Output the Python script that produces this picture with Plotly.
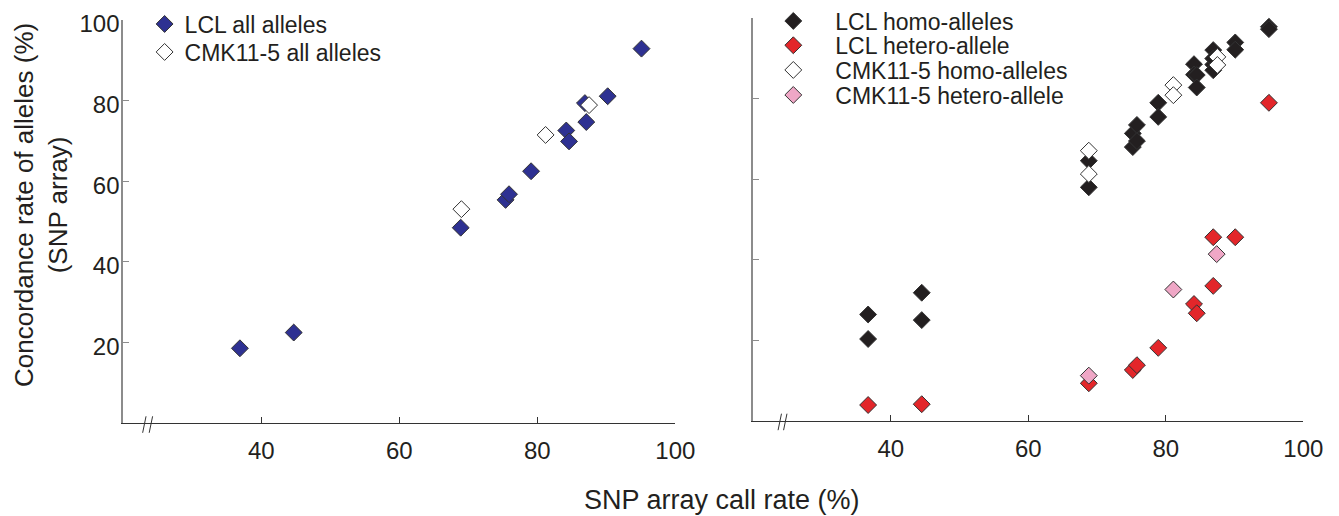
import plotly.graph_objects as go

# The page body keeps its default 8px margin, so the figure starts at (8, 8);
# it is sized to fill the rest of the 1339x516 window and every target pixel
# position below is given in window pixels and converted with OFF.
PAGE_W, PAGE_H = 1339, 516
OFF = 8
W, H = PAGE_W - OFF, PAGE_H - OFF

# ---------------- data ----------------
lcl_all_x = [36.9, 44.7, 68.9, 75.4, 75.9, 79.1, 84.2, 84.6, 87.1, 86.9, 90.2, 95.1]
lcl_all_y = [18.6, 22.5, 48.5, 55.4, 56.8, 62.5, 72.6, 69.9, 74.7, 79.4, 81.1, 92.9]
cmk_all_x = [69.0, 81.2, 87.5]
cmk_all_y = [53.1, 71.5, 78.9]

lcl_homo_x = [36.7, 36.7, 44.5, 44.5, 68.8, 68.8, 75.2, 75.2, 75.8, 75.8, 78.9, 78.9,
              84.1, 84.1, 84.5, 84.5, 86.9, 86.9, 86.9, 86.9, 90.1, 90.1, 95.0, 95.0]
lcl_homo_y = [26.4, 20.3, 31.8, 25.0, 64.6, 58.0, 71.4, 68.0, 73.5, 69.5, 79.0, 75.5,
              88.6, 86.0, 85.9, 82.8, 92.1, 88.5, 90.0, 87.1, 94.0, 92.2, 97.9, 97.3]
lcl_het_x = [36.7, 44.5, 68.8, 75.2, 75.8, 78.9, 84.1, 84.5, 86.9, 86.9, 90.1, 95.0]
lcl_het_y = [3.9, 4.1, 9.3, 12.6, 13.8, 18.1, 29.0, 26.7, 45.6, 33.5, 45.6, 79.0]
cmk_homo_x = [68.8, 68.8, 81.1, 81.1, 87.5, 87.5]
cmk_homo_y = [67.1, 61.3, 83.4, 80.9, 90.4, 88.4]
cmk_het_x = [68.8, 81.1, 87.4]
cmk_het_y = [11.2, 32.6, 41.4]

x_ticks = [40, 60, 80, 100]
y_ticks = [20, 40, 60, 80, 100]

# ---------------- styling ----------------
FONT = "Arial, Liberation Sans, Helvetica, sans-serif"
TXT = "#231F20"
BLUE = "#2E3192"
BLACK = "#231F20"
RED = "#E3262A"
PINK = "#EFA7C6"
WHITE = "#FFFFFF"
EDGE = "#333333"
MSIZE = 13

XR = [20, 100]
YR = [0, 100]


def px_x(p):
    return (p - OFF) / W


def px_y(p):
    return 1 - (p - OFF) / H


L_XD = [px_x(123.3), px_x(675.3)]
L_YD = [px_y(423.3), px_y(20)]
R_XD = [px_x(753.3), px_x(1303.3)]
R_YD = [px_y(420.7), px_y(18.3)]

fig = go.Figure()


def add(x, y, name, color, xa, ya, leg):
    fig.add_trace(go.Scatter(
        x=x, y=y, mode="markers", name=name, xaxis=xa, yaxis=ya, legend=leg,
        marker=dict(symbol="diamond", size=MSIZE, color=color,
                    line=dict(color=EDGE, width=1)),
        cliponaxis=False,
    ))


add(lcl_all_x, lcl_all_y, "LCL all alleles", BLUE, "x", "y", "legend")
add(cmk_all_x, cmk_all_y, "CMK11-5 all alleles", WHITE, "x", "y", "legend2")
add(lcl_homo_x, lcl_homo_y, "LCL homo-alleles", BLACK, "x2", "y2", "legend3")
add(lcl_het_x, lcl_het_y, "LCL hetero-allele", RED, "x2", "y2", "legend4")
add(cmk_homo_x, cmk_homo_y, "CMK11-5 homo-alleles", WHITE, "x2", "y2", "legend5")
add(cmk_het_x, cmk_het_y, "CMK11-5 hetero-allele", PINK, "x2", "y2", "legend6")

xaxis_common = dict(range=XR, tickvals=x_ticks, ticks="inside", ticklen=6, tickwidth=1,
                    tickcolor="#333333", showline=True, linecolor="#333333", linewidth=1.2,
                    showgrid=False, zeroline=False, ticklabelstandoff=6,
                    ticklabeloverflow="allow",
                    tickfont=dict(family=FONT, size=24, color=TXT))
yaxis_common = dict(range=YR, tickvals=y_ticks, ticks="inside", ticklen=6, tickwidth=1,
                    tickcolor="#8C8C8C", showline=True, linecolor="#8C8C8C", linewidth=2,
                    showgrid=False, zeroline=False, ticklabelstandoff=-3,
                    ticklabelshift=4, ticklabeloverflow="allow",
                    tickfont=dict(family=FONT, size=24, color=TXT))

fig.update_layout(
    xaxis=dict(domain=L_XD, anchor="y", **xaxis_common),
    yaxis=dict(domain=L_YD, anchor="x", **yaxis_common),
    xaxis2=dict(domain=R_XD, anchor="y2", **xaxis_common),
    yaxis2=dict(domain=R_YD, anchor="x2", showticklabels=False, **yaxis_common),
)


def leg(mx, my, itemwidth=30):
    # legend symbol sits at 5 + itemwidth/2 px from the legend's left edge
    return dict(x=px_x(mx - 5 - itemwidth / 2), y=px_y(my), xanchor="left", yanchor="middle",
                bgcolor="rgba(0,0,0,0)", borderwidth=0, itemwidth=itemwidth,
                font=dict(family=FONT, size=23, color=TXT))


fig.update_layout(
    legend=leg(164.6, 24),
    legend2=leg(164.6, 52),
    legend3=leg(793.3, 21, 74),
    legend4=leg(793.3, 45.3, 74),
    legend5=leg(793.3, 70, 74),
    legend6=leg(793.3, 95, 74),
)

# axis titles
fig.add_annotation(text="Concordance rate of alleles (%)<br>(SNP array)", textangle=-90,
                   x=px_x(41), y=px_y(205), xref="paper", yref="paper", showarrow=False,
                   xanchor="center", yanchor="middle",
                   font=dict(family=FONT, size=26, color=TXT))
fig.add_annotation(text="SNP array call rate (%)", x=px_x(721.7), y=px_y(500),
                   xref="paper", yref="paper", showarrow=False,
                   xanchor="center", yanchor="middle",
                   font=dict(family=FONT, size=27, color=TXT))


# axis-break marks "//"
def xp(v, dom):
    return dom[0] + (v - XR[0]) / (XR[1] - XR[0]) * (dom[1] - dom[0])


def yp(v, dom):
    return dom[0] + (v - YR[0]) / (YR[1] - YR[0]) * (dom[1] - dom[0])


for dom_x, dom_y, centers in [(L_XD, L_YD, [23.05, 24.0]), (R_XD, R_YD, [23.85, 24.65])]:
    base = yp(0, dom_y)
    for c in centers:
        cx = xp(c, dom_x)
        fig.add_shape(type="line", xref="paper", yref="paper",
                      x0=cx - 1.7 / W, y0=base - 9.5 / H,
                      x1=cx + 1.7 / W, y1=base + 7 / H,
                      line=dict(color="#333333", width=1))

fig.update_layout(
    width=W, height=H, margin=dict(l=0, r=0, t=0, b=0, autoexpand=False),
    paper_bgcolor="white", plot_bgcolor="white",
    font=dict(family=FONT, color=TXT),
    showlegend=True,
)

fig.write_html("out.html")
